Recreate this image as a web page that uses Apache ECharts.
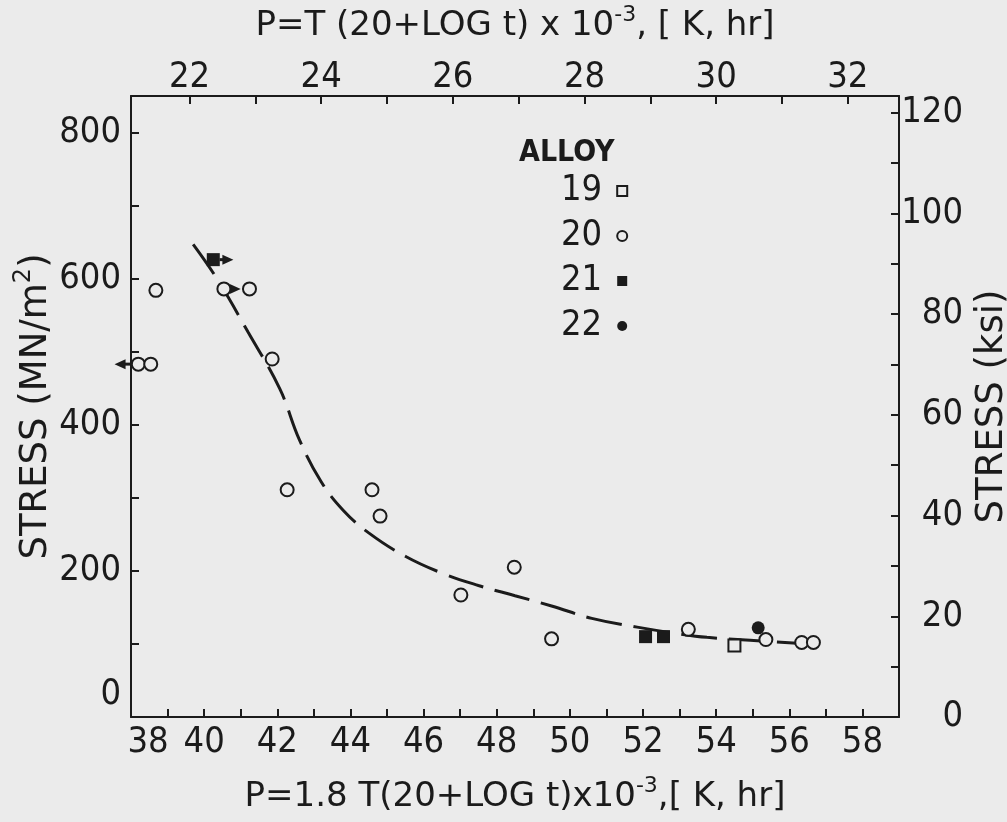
<!DOCTYPE html>
<html><head><meta charset="utf-8">
<script src="https://cdn.jsdelivr.net/npm/echarts@6/dist/echarts.min.js"></script>
<style>html,body{margin:0;padding:0;background:#ebebeb}#c{width:1007px;height:822px}</style>
</head><body><div id="c"></div>
<script>
// ---- data ----
const alloyNames = ['19', '20', '21', '22'];
const alloy19 = [[54.5, 98]];
const alloy20 = [[38.2, 483], [38.54, 483], [38.68, 584], [40.54, 586], [41.24, 586], [41.86, 490],
  [42.27, 311], [44.59, 311], [44.81, 275], [47.02, 167], [48.48, 205], [49.5, 107],
  [53.24, 120], [55.36, 106], [56.34, 102], [56.66, 102]];
const alloy21 = [[40.25, 626], [52.07, 110], [52.56, 110]];
const alloy22 = [[55.15, 122]];
const fitCurve = [[39.7, 647], [40.35, 600], [41.2, 527], [42.07, 449], [42.6, 380], [43.2, 322],
  [43.8, 283], [44.5, 252], [45.5, 220], [46.5, 197], [47.5, 180], [48.5, 166], [49.5, 152],
  [50.6, 135], [51.84, 123], [52.96, 114], [53.75, 109], [54.93, 105], [56.21, 101]];
// runout arrows: [fromX, stress, toX]
const runouts = [[38.05, 483, 37.55], [40.42, 626, 40.8], [40.7, 586, 41.0]];

const bottomTicks = [38,39,40,41,42,43,44,45,46,47,48,49,50,51,52,53,54,55,56,57,58,59];
const bottomLabels = [38,40,42,44,46,48,50,52,54,56,58];
const topTicks = [22,23,24,25,26,27,28,29,30,31,32];
const topLabels = [22,24,26,28,30,32];
const mpaTicks = [0,100,200,300,400,500,600,700,800];
const mpaLabels = [0,200,400,600,800];
const ksiTicks = [0,10,20,30,40,50,60,70,80,90,100,110,120];
const ksiLabels = [0,20,40,60,80,100,120];

const X_MIN = 38, X_MAX = 59, Y_MAX = 850;
const P_RATIO = 1.8, KSI_PER_MPA = 1 / 6.895;

// ---- style ----
const ink = '#1b1b1b', bg = '#ebebeb';
const FF = "'DejaVu Sans Condensed', 'DejaVu Sans', sans-serif";
const FN = "'DejaVu Sans', sans-serif";
const lineS = { onZero: false, lineStyle: { color: ink, width: 2 } };
const tickS = (vals) => ({ show: true, inside: true, length: 8, customValues: vals, lineStyle: { color: ink, width: 2 } });
const labS = { fontFamily: FF, fontSize: 36, color: ink };
const nameStyle = (size) => ({ fontFamily: FN, fontSize: size, color: ink,
  rich: { sup: { fontFamily: FN, fontSize: Math.round(size * 0.65), color: ink, padding: [0, 0, Math.round(size * 0.65), 0] } } });

const chart = echarts.init(document.getElementById('c'), null, { renderer: 'canvas' });
chart.setOption({
  backgroundColor: bg,
  animation: false,
  title: { text: 'ALLOY', left: 514, top: 133,
    textStyle: { fontFamily: FF, fontSize: 30, fontWeight: 'bold', color: ink } },
  legend: {
    data: alloyNames, orient: 'vertical', left: 556, top: 168, align: 'right',
    itemWidth: 10, itemHeight: 10, itemGap: 9,
    textStyle: { fontFamily: FF, fontSize: 36, color: ink, padding: [0, 10, 0, 0] }
  },
  grid: { left: 131, right: 108, top: 96, bottom: 105, containLabel: false, outerBoundsMode: 'none' },
  xAxis: [{
    type: 'value', position: 'bottom', min: X_MIN, max: X_MAX,
    axisLine: lineS, axisTick: tickS(bottomTicks), splitLine: { show: false },
    axisLabel: Object.assign({}, labS, { margin: 8, customValues: bottomLabels,
      formatter: v => v === X_MIN ? '{s|' + v + '}' : String(v),
      rich: { s: { fontFamily: FF, fontSize: 36, color: ink, padding: [0, 0, 0, 34] } } }),
    name: 'P=1.8 T(20+LOG t)x10{sup|-3},[ K, hr]', nameLocation: 'middle', nameGap: 58, nameTextStyle: nameStyle(34)
  }, {
    type: 'value', position: 'top', min: X_MIN / P_RATIO, max: X_MAX / P_RATIO,
    axisLine: lineS, axisTick: tickS(topTicks), splitLine: { show: false },
    axisLabel: Object.assign({}, labS, { margin: 0, customValues: topLabels }),
    name: 'P=T (20+LOG t) x 10{sup|-3}, [ K, hr]', nameLocation: 'middle', nameGap: 48, nameTextStyle: nameStyle(34)
  }],
  yAxis: [{
    type: 'value', position: 'left', min: 0, max: Y_MAX,
    axisLine: lineS, axisTick: tickS(mpaTicks), splitLine: { show: false },
    axisLabel: Object.assign({}, labS, { margin: 10, customValues: mpaLabels,
      formatter: v => v === 0 ? '{z|0}' : String(v),
      rich: { z: { fontFamily: FF, fontSize: 36, color: ink, padding: [0, 0, 44, 0] } } }),
    name: 'STRESS (MN/m{sup|2})', nameLocation: 'middle', nameGap: 71, nameRotate: 90, nameMoveOverlap: false,
    nameTextStyle: nameStyle(37)
  }, {
    type: 'value', position: 'right', min: 0, max: Y_MAX * KSI_PER_MPA,
    axisLine: lineS, axisTick: tickS(ksiTicks), splitLine: { show: false },
    axisLabel: Object.assign({}, labS, { margin: 64, align: 'right', customValues: ksiLabels }),
    name: 'STRESS (ksi)', nameLocation: 'middle', nameGap: 72, nameRotate: 90, nameTextStyle: nameStyle(37)
  }],
  series: [
    { name: '19', type: 'scatter', symbol: 'rect', symbolSize: 12, data: alloy19,
      itemStyle: { color: bg, borderColor: ink, borderWidth: 2, opacity: 1 }, z: 5 },
    { name: '20', type: 'scatter', symbol: 'circle', symbolSize: 13, data: alloy20,
      itemStyle: { color: bg, borderColor: ink, borderWidth: 2, opacity: 1 }, z: 5 },
    { name: '21', type: 'scatter', symbol: 'rect', symbolSize: 13, data: alloy21,
      itemStyle: { color: ink, opacity: 1 }, z: 5 },
    { name: '22', type: 'scatter', symbol: 'circle', symbolSize: 13, data: alloy22,
      itemStyle: { color: ink, opacity: 1 }, z: 5 },
    { name: 'fit', type: 'line', data: fitCurve, smooth: 0.4, showSymbol: false, symbol: 'none',
      lineStyle: { color: ink, width: 3, type: [36, 12] }, z: 3 },
    { name: 'runout', type: 'custom', data: runouts, clip: false, z: 4,
      renderItem: (params, api) => {
        const a = api.coord([api.value(0), api.value(1)]);
        const b = api.coord([api.value(2), api.value(1)]);
        const d = b[0] > a[0] ? 1 : -1;
        return { type: 'group', children: [
          { type: 'line', shape: { x1: a[0], y1: a[1], x2: b[0] - d * 6, y2: b[1] },
            style: { stroke: ink, lineWidth: 3 } },
          { type: 'polygon', shape: { points: [[b[0], b[1]], [b[0] - d * 11, b[1] - 5], [b[0] - d * 11, b[1] + 5]] },
            style: { fill: ink } }
        ] };
      } }
  ]
});
</script></body></html>
